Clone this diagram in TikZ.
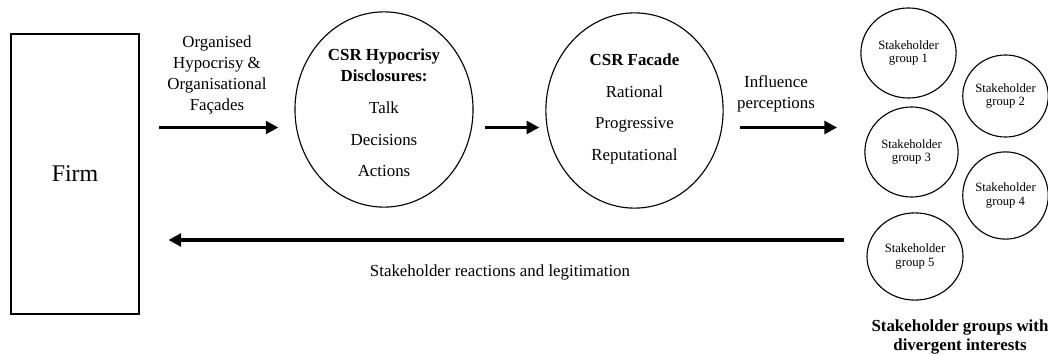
\documentclass[tikz,border=0pt]{standalone}
\usepackage{fontspec}
\setmainfont{Liberation Serif}
\usetikzlibrary{arrows.meta,shapes.geometric}
\tikzset{
  bigarrow/.style={line width=2.6pt,-{Triangle[length=9pt,width=9pt]}},
  bigoval/.style={draw,ellipse,line width=0.8pt,minimum width=4.45cm,minimum height=4.88cm,inner sep=0pt},
  sgroup/.style={draw,ellipse,line width=0.8pt,inner sep=0pt,align=center,
    font=\fontsize{9}{9.6}\selectfont},
  txt/.style={align=center,font=\fontsize{12}{15}\selectfont}
}

\begin{document}
\begin{tikzpicture}[x=0.025cm,y=-0.025cm]
\useasboundingbox (0,0) rectangle (1048,354);
% firm
\node[draw,line width=0.8pt,minimum width=3.2cm,minimum height=7cm,
  font=\fontsize{17}{20}\selectfont] (firm) at (75,174) {Firm};
% the two big ovals
\node[bigoval] (hyp) at (384,109.5) {};
\node[txt] (hyptext) at (384,113) {\textbf{CSR Hypocrisy}\\\textbf{Disclosures:}\\[7.5pt]Talk\\[7.5pt]Decisions\\[7.5pt]Actions};
\node[bigoval,minimum width=4.43cm] (facade) at (634.5,110.5) {};
\node[txt] (facadetext) at (634.5,109) {\textbf{CSR Facade}\\[7.5pt]Rational\\[7.5pt]Progressive\\[7.5pt]Reputational};
% stakeholders
\node[sgroup,minimum width=2.38cm,minimum height=2.25cm] (sg1) at (908.5,53) {Stakeholder\\group 1};
\node[sgroup,minimum width=2.12cm,minimum height=2.05cm] (sg2) at (1005.5,96) {Stakeholder\\group 2};
\node[sgroup,minimum width=2.33cm,minimum height=2.25cm] (sg3) at (911.5,152) {Stakeholder\\group 3};
\node[sgroup,minimum width=2.12cm,minimum height=2.18cm] (sg4) at (1005.5,195.5) {Stakeholder\\group 4};
\node[sgroup,minimum width=2.4cm,minimum height=2.18cm] (sg5) at (915,256.5) {Stakeholder\\group 5};
\node[txt,font=\fontsize{12}{14.2}\selectfont\bfseries] (sgcap) at (960,337) {Stakeholder groups with\\divergent interests};
% arrows
\coordinate (toprow) at (0,127.5);
\coordinate (backrow) at (0,240);
\draw[bigarrow,shorten <=0.48cm,shorten >=0.4cm] (firm.east |- toprow) -- (hyp.west |- toprow);
\draw[bigarrow,shorten <=0.28cm,shorten >=0.15cm] (hyp.east |- toprow) -- (facade.west |- toprow);
\draw[bigarrow,shorten <=0.42cm,shorten >=0.68cm] (facade.east |- toprow) -- (sg3.west |- toprow);
\draw[bigarrow,shorten <=0.55cm,shorten >=0.72cm] (sg5.west |- backrow) -- (firm.east |- backrow);
% labels
\node[txt] (orglabel) at (217,75) {Organised\\Hypocrisy \&\\Organisational\\Façades};
\node[txt] (inflabel) at (776,94) {Influence\\perceptions};
\node[txt] (backlabel) at (500,272) {Stakeholder reactions and legitimation};
\end{tikzpicture}
\end{document}
